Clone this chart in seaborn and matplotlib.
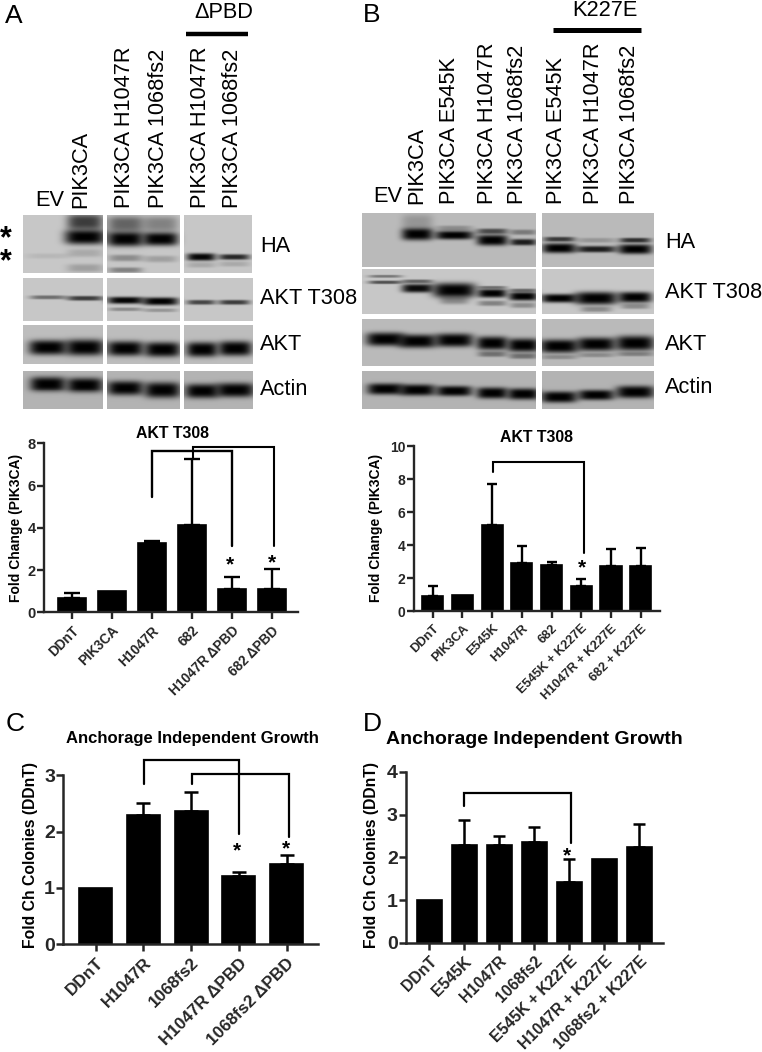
import matplotlib
matplotlib.use("Agg")
import matplotlib.pyplot as plt
import numpy as np
import pandas as pd
import seaborn as sns

W, H = 762, 1052

# bar charts, values (nan = no visible error bar)
a_labels = ["DDnT", "PIK3CA", "H1047R", "682", "H1047R ΔPBD", "682 ΔPBD"]
a_values = [0.68, 1.0, 3.3, 4.15, 1.1, 1.1]
a_tops = [0.92, np.nan, 3.38, 7.25, 1.68, 2.03]

b_labels = ["DDnT", "PIK3CA", "E545K", "H1047R", "682", "E545K + K227E", "H1047R + K227E", "682 + K227E"]
b_values = [0.9, 1.0, 5.2, 2.95, 2.82, 1.52, 2.75, 2.75]
b_tops = [1.55, np.nan, 7.72, 3.95, 2.98, 1.97, 3.78, 3.85]

c_labels = ["DDnT", "H1047R", "1068fs2", "H1047R ΔPBD", "1068fs2 ΔPBD"]
c_values = [1.0, 2.3, 2.37, 1.22, 1.43]
c_tops = [np.nan, 2.51, 2.7, 1.29, 1.59]

d_labels = ["DDnT", "E545K", "H1047R", "1068fs2", "E545K + K227E", "H1047R + K227E", "1068fs2 + K227E"]
d_values = [1.0, 2.3, 2.3, 2.37, 1.42, 1.95, 2.25]
d_tops = [np.nan, 2.87, 2.51, 2.7, 1.97, np.nan, 2.78]

# blot bands: (lane x, half width, band y, half height, strength)
a_ha = [(48, 18, 256, 2, .08), (85, 17, 237, 5.5, 1), (85, 15, 222, 6, .7), (85, 15, 268, 3, .2), (85, 15, 253, 3, .15),
        (125, 15, 239, 5.5, 1), (125, 15, 224, 6, .5), (125, 14, 258, 2.5, .3), (125, 14, 270, 2, .35),
        (160, 15, 239, 5, 1), (160, 15, 224, 6, .35), (160, 14, 259, 2.5, .2),
        (201, 12, 257, 2.8, .97), (234, 13, 257, 2.1, .8), (234, 13, 264, 2, .15), (201, 12, 265, 2, .15)]
a_t308 = [(48, 15, 297, 1.5, .45), (85, 15, 298, 1.8, .7), (125, 15, 300, 2.6, .98), (125, 14, 309, 1.4, .3),
          (160, 15, 301, 2.9, 1), (160, 14, 310, 1.4, .25), (201, 12, 302, 1.8, .65), (234, 13, 302, 1.8, .7)]
a_akt = [(48, 16, 347, 5.5, 1), (85, 16, 347, 6, 1), (125, 15, 348, 5.5, 1), (162, 15, 349, 5.5, 1),
         (202, 13, 349, 5.5, 1), (235, 14, 348, 5.5, 1)]
a_actin = [(48, 15, 384, 5.5, 1), (85, 15, 385, 5.5, 1), (125, 15, 388, 5.5, 1), (162, 15, 390, 6, 1),
           (202, 14, 391, 5.5, 1), (235, 16, 390, 5.5, 1)]

b_ha = [(417, 13, 234, 4.5, 1), (417, 13, 222, 6, .2), (454, 16, 235, 3.2, 1), (454, 15, 228, 2, .25),
        (492, 13, 240, 4, 1), (492, 13, 231, 2, .6), (523, 11, 242, 2.4, .85), (523, 11, 232, 2, .35),
        (559, 14, 248, 3.6, 1), (559, 13, 239, 1.8, .7), (596, 17, 249, 2.4, .85), (596, 16, 240, 1.8, .2),
        (635, 14, 249, 3.6, 1), (635, 13, 240, 1.8, .75)]
b_t308 = [(385, 14, 282, 1.3, .6), (385, 14, 276, 1.1, .4), (417, 13, 288, 3.2, .95), (417, 13, 281, 1.4, .5),
          (454, 18, 290, 5.5, 1), (454, 12, 300, 3, .3), (492, 12, 293, 3.2, 1), (492, 12, 303, 2, .35), (492, 12, 287, 1.1, .4),
          (523, 12, 296, 3.2, 1), (523, 11, 305, 2, .3), (523, 12, 290, 1.3, .45),
          (559, 15, 298, 3.2, 1), (596, 18, 298, 4.8, 1), (596, 13, 309, 2, .3), (635, 14, 297, 4, 1), (635, 12, 306, 2, .3)]
b_akt = [(385, 16, 339, 5, 1), (417, 16, 341, 5, 1), (454, 16, 340, 5, 1), (492, 13, 343, 5, 1), (492, 12, 354, 2, .4),
         (523, 13, 345, 5, 1), (523, 12, 356, 2, .4), (559, 16, 346, 5, 1), (559, 15, 357, 1.6, .25),
         (596, 16, 344, 5, 1), (596, 15, 355, 1.6, .25), (635, 16, 343, 5.5, 1), (635, 15, 354, 1.6, .3)]
b_actin = [(385, 15, 389, 4.2, 1), (417, 15, 390, 4.2, 1), (454, 15, 391, 3.8, 1), (492, 13, 393, 4.2, 1), (523, 13, 394, 4.2, 1),
           (559, 15, 397, 4.2, 1), (596, 15, 395, 3.8, 1), (635, 16, 392, 4.6, 1)]

sns.set_theme(style="ticks")
plt.rcParams["font.family"] = ["Liberation Sans", "DejaVu Sans"]
plt.rcParams["axes.linewidth"] = 1.6

fig = plt.figure(figsize=(W / 100, H / 100), dpi=100, facecolor="white")


def px_axes(left, top, right, bottom):
    return fig.add_axes([left / W, 1 - bottom / H, (right - left) / W, (bottom - top) / H])


def px_text(x, y, s, **kw):
    kw.setdefault("ha", "center")
    kw.setdefault("va", "center")
    kw.setdefault("color", "black")
    fig.text(x / W, 1 - y / H, s, **kw)


def blot(left, top, right, bottom, bands, bg):
    xs = np.arange(left, right, 0.5)
    ys = np.arange(top, bottom, 0.5)
    xx, yy = np.meshgrid(xs, ys)
    light = np.full(xx.shape, 1 - bg)
    for x0, hw, y0, hh, s in bands:
        prof = np.exp(-np.abs((xx - x0) / (hw * 1.2)) ** 4) * np.exp(-np.abs((yy - y0) / (hh * 1.35)) ** 3)
        light *= 1 - s * prof
    ax = px_axes(left, top, right, bottom)
    sns.heatmap(1 - light, ax=ax, cmap="gray_r", vmin=0, vmax=1, cbar=False,
                xticklabels=False, yticklabels=False)
    ax.tick_params(length=0)


def bar_panel(box, labels, values, tops, width, ymax, yticks, lw, ytick_size, xtick_size, xlim, cap):
    ax = px_axes(*box)
    df = pd.DataFrame({"label": labels, "value": values})
    sns.barplot(data=df, x="label", y="value", color="black", saturation=1, width=width,
                errorbar=None, edgecolor="black", linewidth=1.2, ax=ax)
    tops = np.array(tops)
    vals = np.array(values)
    idx = np.where(~np.isnan(tops))[0]
    ax.errorbar(idx, vals[idx], yerr=[np.zeros(len(idx)), tops[idx] - vals[idx]], fmt="none",
                ecolor="black", elinewidth=lw, capsize=cap, capthick=lw)
    ax.set_xlim(*xlim)
    ax.set_ylim(0, ymax)
    ax.set_xlabel("")
    ax.set_ylabel("")
    ax.set_yticks(yticks)
    ax.patch.set_alpha(0)
    sns.despine(ax=ax)
    for side in ("left", "bottom"):
        ax.spines[side].set_linewidth(lw)
    ax.tick_params(axis="y", length=5, width=lw, labelsize=ytick_size, pad=1)
    ax.tick_params(axis="x", length=5, width=lw, labelsize=xtick_size, pad=3)
    for t in ax.get_yticklabels():
        t.set_fontweight("bold")
    ax.set_xticks(range(len(labels)))
    ax.set_xticklabels(labels, rotation=45, ha="right", rotation_mode="anchor", fontweight="bold")
    return ax


def bracket(ax, x0, y0, ymid, x1, y1, lw):
    ax.plot([x0, x0, x1, x1], [y0, ymid, ymid, y1], color="black", lw=lw, clip_on=False,
            solid_joinstyle="miter", zorder=5)


# blots, panel A
for (l, r, r_actin) in [(23, 102.7, 102.7), (107, 180, 180), (184.3, 251.7, 253)]:
    blot(l, 215, r, 273.3, a_ha, .22)
    blot(l, 277.7, r_actin, 320.7, a_t308, .22)
    blot(l, 325, r_actin, 364, a_akt, .26)
    blot(l, 370.7, r_actin, 409.3, a_actin, .3)

# blots, panel B
for (l, r) in [(361.7, 536), (542.3, 653.7)]:
    blot(l, 213.3, r, 266.7, b_ha, .27)
    blot(l, 268.7, r, 314, b_t308, .22)
    blot(l, 319.3, r, 366, b_akt, .27)
    blot(l, 371, r, 409.3, b_actin, .3)

# lane labels
LANE = 15.7
for x, s in [(81, "PIK3CA"), (124, "PIK3CA H1047R"), (158, "PIK3CA 1068fs2"),
             (200, "PIK3CA H1047R"), (233, "PIK3CA 1068fs2")]:
    px_text(x, 207.5, s, rotation=90, va="bottom", fontsize=LANE)
px_text(50, 201, "EV", fontsize=LANE)
for x, s in [(416.7, "PIK3CA"), (450, "PIK3CA E545K"), (487.7, "PIK3CA H1047R"), (517.7, "PIK3CA 1068fs2"),
             (557, "PIK3CA E545K"), (593.3, "PIK3CA H1047R"), (629.3, "PIK3CA 1068fs2")]:
    px_text(x, 204, s, rotation=90, va="bottom", fontsize=LANE)
px_text(388, 197, "EV", fontsize=LANE)

px_text(224, 12, "ΔPBD", fontsize=LANE)
px_text(605, 10, "K227E", fontsize=LANE)
fig.add_artist(plt.Line2D([186 / W, 248 / W], [1 - 34 / H] * 2, color="black", lw=3.2, solid_capstyle="butt"))
fig.add_artist(plt.Line2D([552.7 / W, 641 / W], [1 - 30 / H] * 2, color="black", lw=3.6, solid_capstyle="butt"))

for x, y, s in [(260, 247, "HA"), (260, 298, "AKT T308"), (260, 344, "AKT"), (260, 389, "Actin"),
                (665, 243, "HA"), (665, 293, "AKT T308"), (665, 344, "AKT"), (665, 388, "Actin")]:
    px_text(x, y, s, ha="left", fontsize=LANE)

px_text(6, 251, "*\n*", fontsize=22, fontweight="bold", linespacing=0.68)

for x, y, s in [(14, 16, "A"), (372, 15, "B"), (15, 724, "C"), (372, 724, "D")]:
    px_text(x, y, s, fontsize=19)

# bar charts
ax_a = bar_panel((44, 443.3, 298, 612.3), a_labels, a_values, a_tops, .70, 8, [0, 2, 4, 6, 8], 1.7, 10.5, 9.8, (-.69, 5.66), 5.5)
bracket(ax_a, 2.02, 5.46, 7.63, 4.02, 3.13, 1.7)
bracket(ax_a, 3.03, 7.25, 7.84, 5.05, 3.13, 1.5)

ax_b = bar_panel((413.7, 446, 660.3, 611.3), b_labels, b_values, b_tops, .71, 10, [0, 2, 4, 6, 8, 10], 1.7, 10, 9.2, (-.64, 7.66), 3.6)
bracket(ax_b, 2.03, 8.44, 9.05, 5.09, 3.5, 1.5)

ax_c = bar_panel((63.3, 775.3, 318, 944.3), c_labels, c_values, c_tops, .69, 3, [0, 1, 2, 3], 1.8, 14, 12.3, (-.68, 4.66), 5)
bracket(ax_c, 1.01, 2.85, 3.27, 3.01, 1.95, 1.6)
bracket(ax_c, 2.01, 2.85, 3.02, 4.05, 1.91, 1.6)

ax_d = bar_panel((406, 772, 662.7, 942.7), d_labels, d_values, d_tops, .71, 4, [0, 1, 2, 3, 4], 1.8, 14, 11.4, (-.66, 6.67), 4)
bracket(ax_d, 1.0, 3.21, 3.5, 4.06, 2.34, 1.6)

# significance stars
for x, y in [(230, 565), (272, 563), (581.7, 568), (236.7, 851), (285.7, 849), (567, 856)]:
    px_text(x, y, "*", fontsize=15, fontweight="bold")

# titles and axis labels
px_text(172, 434, "AKT T308", fontsize=11.4, fontweight="bold")
px_text(537, 437, "AKT T308", fontsize=11.4, fontweight="bold")
px_text(192, 739, "Anchorage Independent Growth", fontsize=12, fontweight="bold")
px_text(534, 739, "Anchorage Independent Growth", fontsize=14, fontweight="bold")

px_text(15.7, 527.5, "Fold Change (PIK3CA)", rotation=90, fontsize=10, fontweight="bold")
px_text(376, 528, "Fold Change (PIK3CA)", rotation=90, fontsize=10, fontweight="bold")
px_text(30.7, 855.5, "Fold Ch Colonies (DDnT)", rotation=90, fontsize=11.3, fontweight="bold")
px_text(371.7, 855.5, "Fold Ch Colonies (DDnT)", rotation=90, fontsize=11.3, fontweight="bold")

fig.savefig("out.png", dpi=100)
plt.close(fig)
